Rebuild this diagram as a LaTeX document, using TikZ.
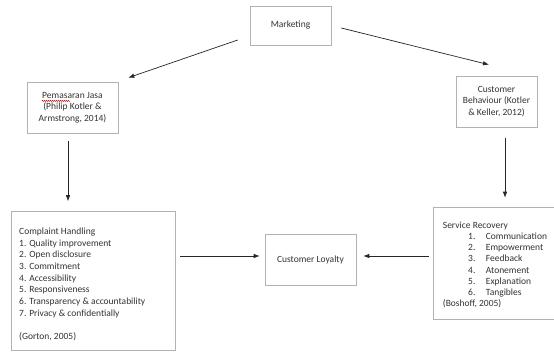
\documentclass[tikz,border=0pt]{standalone}
\usepackage{fontspec}
\setmainfont{Carlito}
\usetikzlibrary{arrows.meta,calc,decorations.pathmorphing}
\begin{document}
\begin{tikzpicture}[x=1pt,y=-1pt,
  box/.style={draw=black!30, line width=0.6pt, rectangle, inner sep=0pt, align=center,
    font=\fontsize{9.5}{11.4}\selectfont, text=black!80},
  txt/.style={inner sep=0pt, align=left, font=\fontsize{9.5}{11.7}\selectfont, text=black!80, anchor=north west},
  arr/.style={draw=black!85, line width=0.7pt, -{Latex[length=6pt,width=4.5pt]}}]
\useasboundingbox[fill=white] (0,0) rectangle (554,351);
% boxes
\node[box, minimum width=81pt, minimum height=39pt] (mk) at (290.5,25.5) {Marketing};
\node[box, minimum width=91pt, minimum height=51pt] (pj) at (72.5,107.5) {Pemasaran Jasa\\(Philip Kotler \&\\Armstrong, 2014)};
\node[box, minimum width=81pt, minimum height=51pt] (cb) at (496.5,101.5) {Customer\\Behaviour (Kotler\\\& Keller, 2012)};
\node[box, minimum width=164pt, minimum height=139pt] (ch) at (93,281) {};
\node[box, minimum width=91pt, minimum height=51pt] (cl) at (310.5,259.5) {Customer Loyalty};
\node[box, minimum width=124pt, minimum height=112pt] (sr) at (495,263) {};
% box texts
\node[txt] (chtxt) at (19,227.5) {Complaint Handling\\1. Quality improvement\\2. Open disclosure\\3. Commitment\\4. Accessibility\\5. Responsiveness\\6. Transparency \& accountability\\7. Privacy \& confidentially\\[11.7pt](Gorton, 2005)};
\node[txt, font=\fontsize{9.5}{11.2}\selectfont] (srtxt) at (442.7,221.5) {Service Recovery\\
\hspace*{25.3pt}\makebox[17.7pt][l]{1.}Communication\\
\hspace*{25.3pt}\makebox[17.7pt][l]{2.}Empowerment\\
\hspace*{25.3pt}\makebox[17.7pt][l]{3.}Feedback\\
\hspace*{25.3pt}\makebox[17.7pt][l]{4.}Atonement\\
\hspace*{25.3pt}\makebox[17.7pt][l]{5.}Explanation\\
\hspace*{25.3pt}\makebox[17.7pt][l]{6.}Tangibles\\
(Boshoff, 2005)};
% spell-check squiggle
\draw[red!80!black, line width=0.4pt, decorate, decoration={snake, amplitude=0.6pt, segment length=2pt}]
  ($(pj.center)+(-30.8,-6.6)$) -- ($(pj.center)+(-2.5,-6.6)$);
% connectors
\draw[arr] ($(mk.west)+(-12,14.5)$) -- ($(pj.north east)+(10,-4)$);
\draw[arr] ($(mk.east)+(10,2.5)$) -- ($(cb.north)+(-7.5,-11)$);
\draw[arr] ($(pj.south)+(-4.5,8)$) -- ($(ch.north)+(-25,-10)$);
\draw[arr] ($(cb.south)+(8.5,11)$) -- ($(sr.north)+(10,-9)$);
\draw[arr] ($(ch.east)+(5,-25)$) -- ($(cl.west)+(-5,-3.5)$);
\draw[arr] ($(sr.west)+(-4,-7)$) -- ($(cl.east)+(7,-3.5)$);
\end{tikzpicture}
\end{document}
